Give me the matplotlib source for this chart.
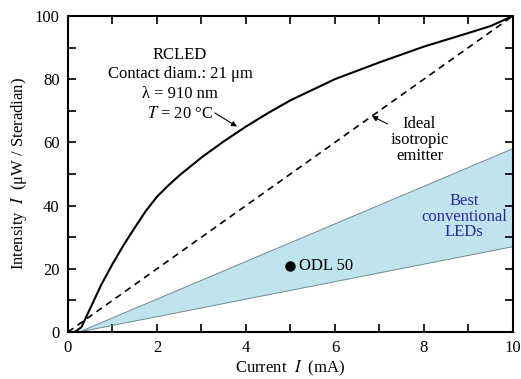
import matplotlib as mpl
mpl.use('Agg')
import matplotlib.pyplot as plt
import numpy as np

# RCLED measured curve
rc_current = [0, 0.15, 0.3, 0.4, 0.55, 0.75, 1.0, 1.25, 1.5, 1.75, 2.0, 2.25, 2.5, 3.0, 3.5, 4.0, 4.5, 5.0, 6.0, 7.0, 8.0, 9.0, 9.5, 10.0]
rc_intensity = [0, 0, 1.5, 4.5, 9, 15, 21.5, 27.5, 33, 38.3, 42.8, 46.3, 49.5, 55.2, 60.3, 65, 69.3, 73.3, 80, 85.3, 90.3, 94.6, 96.8, 100]

# ideal isotropic emitter
ideal_current = [0, 10]
ideal_intensity = [0, 100]

# band of best conventional LEDs
band_current = [0.25, 10]
band_upper = [0, 58]
band_lower = [0, 27]

# ODL 50 point
odl_current = [5]
odl_intensity = [21]

plt.rcParams['font.family'] = ['Liberation Serif', 'DejaVu Serif']
plt.rcParams['mathtext.fontset'] = 'stix'

fig = plt.figure(figsize=(5.21, 3.79), dpi=100)
ax = fig.add_axes([0.1305, 0.124, 0.854, 0.834])

ax.fill_between(band_current, band_lower, band_upper, facecolor='#c0e4ee', edgecolor='none', zorder=1)
ax.plot(band_current, band_upper, color='#6f8a90', lw=0.7, zorder=2)
ax.plot(band_current, band_lower, color='#6f8a90', lw=0.7, zorder=2)

ax.plot(ideal_current, ideal_intensity, color='black', lw=1.2, ls=(0, (4, 3)), zorder=3)
ax.plot(rc_current, rc_intensity, color='black', lw=1.5, zorder=4)
ax.plot(odl_current, odl_intensity, 'o', color='black', ms=6.5, zorder=5)

fs = 12
ax.text(5.2, 21, 'ODL 50', fontsize=fs, va='center', ha='left')
ax.text(8.9, 36.5, 'Best\nconventional\nLEDs', fontsize=fs, color='#2a2aa0', ha='center', va='center', linespacing=0.95)
ax.annotate('Ideal\nisotropic\nemitter', xy=(6.83, 68.3), xytext=(7.9, 60.8),
            fontsize=fs, ha='center', va='center', linespacing=1.02,
            arrowprops=dict(arrowstyle='-|>', color='black', lw=0.8, shrinkA=20, shrinkB=0, mutation_scale=8))
ax.text(2.52, 78.4, 'RCLED\nContact diam.: 21 μm\nλ = 910 nm\n$T$ = 20 °C', fontsize=fs, ha='center', va='center', linespacing=1.3)
ax.annotate('', xy=(3.8, 65), xytext=(3.3, 69.3),
            arrowprops=dict(arrowstyle='-|>', color='black', lw=0.8, shrinkA=0, shrinkB=0, mutation_scale=8))

ax.set_xlim(0, 10)
ax.set_ylim(0, 100)
ax.set_xticks(np.arange(0, 11, 2))
ax.set_xticks(np.arange(1, 10, 2), minor=True)
ax.set_yticks(np.arange(0, 101, 20))
ax.set_yticks(np.arange(10, 100, 20), minor=True)
ax.tick_params(which='both', direction='in', top=True, right=True, labelsize=fs, width=1.2)
ax.tick_params(which='major', length=6, pad=6)
ax.tick_params(which='minor', length=6)
for s in ax.spines.values():
    s.set_linewidth(1.5)

ax.set_xlabel('Current  $I$  (mA)', fontsize=fs, labelpad=2)
ax.set_ylabel('Intensity  $I$  (μW / Steradian)', fontsize=fs)

plt.savefig('out.png', dpi=100)
